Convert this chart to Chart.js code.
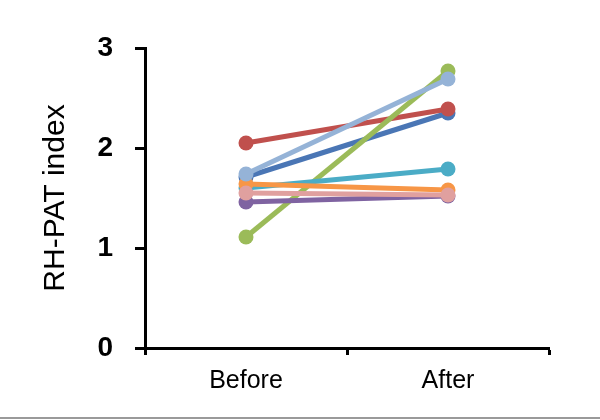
<!DOCTYPE html>
<html>
<head>
<meta charset="utf-8">
<script src="https://cdn.jsdelivr.net/npm/chart.js@4.4.0/dist/chart.umd.min.js"></script>
<style>
    html, body { margin: 0; padding: 0; background: #fff; }
    #wrap { position: relative; width: 600px; height: 420px; }
    #bottomRule { position: absolute; left: 0; top: 417px; width: 600px; height: 2px; background: #9a9a9a; }
</style>
</head>
<body>
<div id="wrap">
    <canvas id="chart" width="600" height="420"></canvas>
    <div id="bottomRule"></div>
</div>
<script>
// Данные: RH-PAT index до и после
const categories = ['Before', 'After'];
const seriesDarkBlue = [1.71, 2.35];
const seriesRed = [2.05, 2.39];
const seriesGreen = [1.11, 2.77];
const seriesPurple = [1.46, 1.52];
const seriesTeal = [1.60, 1.79];
const seriesOrange = [1.64, 1.58];
const seriesLightBlue = [1.74, 2.69];
const seriesPink = [1.55, 1.53];
const yTicks = [0, 1, 2, 3];

const series = [
    { data: seriesDarkBlue, color: '#4A76B5' },
    { data: seriesRed, color: '#C0504D' },
    { data: seriesGreen, color: '#9BBB59' },
    { data: seriesPurple, color: '#7F63A1' },
    { data: seriesTeal, color: '#4BACC6' },
    { data: seriesOrange, color: '#F79646' },
    { data: seriesLightBlue, color: '#95B3D7' },
    { data: seriesPink, color: '#E0A09F' }
];

// последние серии рисуются сверху, как в Excel
const datasets = series.map((s, i) => ({
    data: s.data,
    borderColor: s.color,
    backgroundColor: s.color,
    borderWidth: 5,
    pointRadius: 7.5,
    pointBorderWidth: 0,
    pointHoverRadius: 7.5,
    order: series.length - i,
    tension: 0
}));

new Chart(document.getElementById('chart'), {
    type: 'line',
    data: { labels: categories, datasets: datasets },
    options: {
        responsive: false,
        animation: false,
        layout: { padding: { left: 0, top: 48, right: 51, bottom: 0 } },
        plugins: {
            legend: { display: false },
            tooltip: { enabled: false }
        },
        scales: {
            x: {
                offset: true,
                grid: {
                    offset: true,
                    drawOnChartArea: false,
                    tickLength: 7,
                    tickWidth: 3,
                    tickColor: '#000'
                },
                border: { color: '#000', width: 3 },
                ticks: {
                    color: '#000',
                    padding: 11,
                    font: { family: 'Liberation Sans', size: 25 }
                },
                afterFit: (scale) => { scale.height = 72; }
            },
            y: {
                min: 0,
                max: 3,
                afterBuildTicks: (scale) => {
                    scale.ticks = yTicks.map(v => ({ value: v }));
                },
                grid: {
                    drawOnChartArea: false,
                    tickLength: 10,
                    tickWidth: 3,
                    tickColor: '#000'
                },
                border: { color: '#000', width: 3 },
                ticks: {
                    color: '#000',
                    padding: 22,
                    font: { family: 'Liberation Sans', size: 28, weight: 'bold' }
                },
                title: {
                    display: true,
                    text: 'RH-PAT index',
                    color: '#000',
                    padding: { top: 38, bottom: 0 },
                    font: { family: 'Liberation Sans', size: 30 }
                },
                afterFit: (scale) => { scale.width = 145; }
            }
        }
    }
});
</script>
</body>
</html>
